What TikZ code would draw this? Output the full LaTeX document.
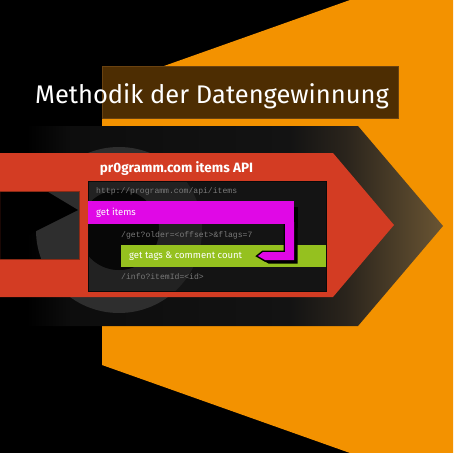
\documentclass[tikz,border=0pt]{standalone}
\usepackage{fontspec}
\setmainfont{Fira Sans}
\setmonofont{Liberation Mono}
\definecolor{bgorange}{HTML}{F39200}
\definecolor{chevred}{HTML}{D33C23}
\definecolor{holeline}{HTML}{8A2A15}
\definecolor{titlebrown}{HTML}{4D2D02}
\definecolor{titleline}{HTML}{6A4210}
\definecolor{mag}{HTML}{E008E6}
\definecolor{lime}{HTML}{95C11F}
\definecolor{panelc}{HTML}{141414}
\definecolor{panelline}{HTML}{0A0A0A}
\definecolor{codegray}{HTML}{7A7A7A}
\definecolor{ringgray}{HTML}{2E2E2E}
\definecolor{ringpanel}{HTML}{222222}
\definecolor{discpanel}{HTML}{070707}
\definecolor{bandA}{HTML}{000000}
\definecolor{bandB}{HTML}{0D0D0D}
\definecolor{bandC}{HTML}{131313}
\definecolor{bandD}{HTML}{2A241C}
\definecolor{bandE}{HTML}{6A5533}
\pgfdeclarehorizontalshading{bandshade}{100bp}{color(0bp)=(bandA); color(25bp)=(bandA); color(28bp)=(bandA); color(33bp)=(bandB); color(57.7bp)=(bandC); color(64bp)=(bandD); color(75bp)=(bandE); color(100bp)=(bandE)}
\tikzset{
  codetext/.style={anchor=west, inner sep=0pt, text=codegray, font=\ttfamily\fontsize{8.1}{9}\selectfont},
  bartext/.style={anchor=west, inner sep=0pt, text=white, font=\fontsize{9.5}{11}\selectfont},
}
\begin{document}
\begin{tikzpicture}[x=1pt,y=-1pt]
\useasboundingbox (0,0) rectangle (453,453);
\fill[black] (0,0) rectangle (453,453);
% orange background shape
\fill[bgorange] (102,88) -- (350,0) -- (453,0) -- (453,453) -- (350,453) -- (102,365) -- cycle;
% dark chevron band
\shade[shading=bandshade] (0,126) -- (358,126) -- (443,226) -- (358,326) -- (0,326) -- cycle;
% faint circular arrow
\fill[ringgray, even odd rule] (119,230) circle (83) (119,230) circle (40);
\fill[black] (78,210) -- (18,174) -- (8,245) -- cycle;
% red chevron with black window
\fill[chevred, even odd rule] (0,153) -- (333,153) -- (394,225) -- (333,297) -- (0,297) -- cycle (0,191) rectangle (79,259);
\draw[holeline, line width=0.8pt] (-1,191) rectangle (79,259);
% title box
\fill[titlebrown] (102,66) rectangle (398,118);
\draw[titleline, line width=0.6pt] (102,66) rectangle (398,118);
\node[anchor=base west, inner sep=0pt, text=white, font=\fontsize{25.5}{28}\selectfont] (title) at (35,103) {Methodik der Datengewinnung};
% API panel
\fill[panelc] (88,181) rectangle (326,291);
\begin{scope}
  \clip (88,181) rectangle (326,291);
  \fill[ringpanel, even odd rule] (119,230) circle (83) (119,230) circle (40);
  \fill[discpanel] (119,230) circle (40);
\end{scope}
\draw[panelline, line width=0.8pt] (88,181) rectangle (326,291);
\node[anchor=center, inner sep=0pt, text=white, font=\fontsize{13.5}{15}\selectfont\bfseries] (apititle) at (176.5,168.5) {pr0gramm.com items API};
\node[codetext] (url) at (96,191.5) {http://programm.com/api/items};
\node[codetext] (getq) at (121,235) {/get?older=<offset>\&flags=7};
\node[codetext] (infoq) at (121,277) {/info?itemId=<id>};
% green bar
\fill[lime] (121,245) rectangle (326,267);
\node[bartext] (tags) at (129,256.5) {get tags \& comment count};
% magenta hook with shadow
\fill[black] (290,207) rectangle (298,228);
\fill[black, shift={(3.5,3.5)}] (285,222) -- (294,222) -- (294,260) -- (265,260) -- (258,256) -- (263,252) -- (285,252) -- cycle;
\draw[black, line width=3pt, line join=miter] (285,224) -- (294,224) -- (294,260) -- (265,260) -- (258,256) -- (263,252) -- (285,252) -- cycle;
\fill[mag] (285,222) -- (294,222) -- (294,260) -- (265,260) -- (258,256) -- (263,252) -- (285,252) -- cycle;
\fill[mag] (88,201) rectangle (294,224);
\node[bartext] (items) at (96,213) {get items};
\end{tikzpicture}
\end{document}
